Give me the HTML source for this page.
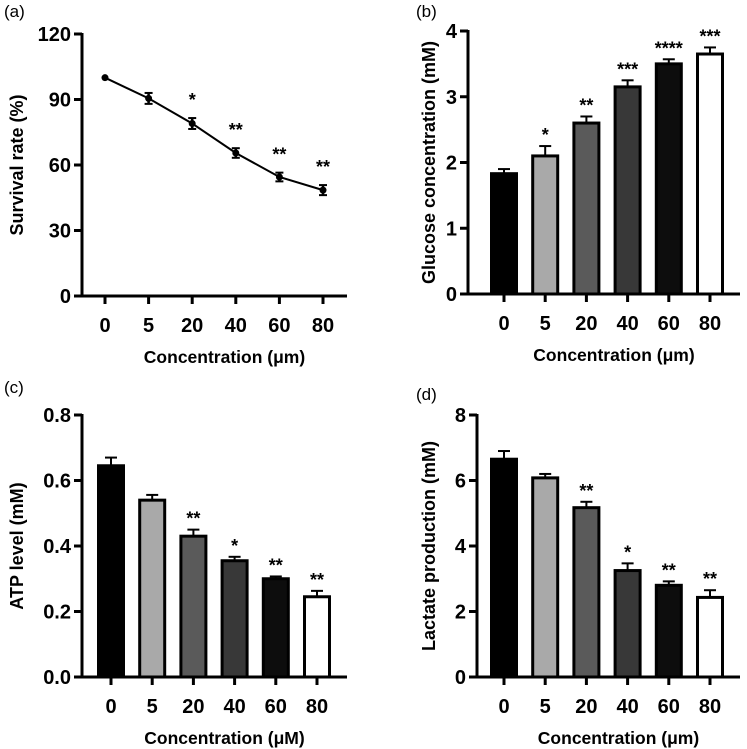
<!DOCTYPE html>
<html><head><meta charset="utf-8"><style>
body{margin:0;background:#fff}
svg{display:block;font-family:"Liberation Sans",Arial,sans-serif}
</style></head><body>
<svg id="fig" width="747" height="749" viewBox="0 0 747 749"></svg>
<script>
const categories=["0","5","20","40","60","80"];
const survivalValues=[100,90.5,79,65.5,54.5,48.5];
const survivalErrors=[0,2.5,2.5,2.2,2,2.3];
const survivalStars=["","","*","**","**","**"];
const glucoseValues=[1.83,2.1,2.6,3.15,3.5,3.65];
const glucoseErrors=[0.07,0.15,0.1,0.1,0.07,0.1];
const glucoseStars=["","*","**","***","****","***"];
const atpValues=[0.645,0.54,0.43,0.355,0.3,0.245];
const atpErrors=[0.025,0.016,0.02,0.012,0.007,0.018];
const atpStars=["","","**","*","**","**"];
const lactateValues=[6.65,6.08,5.17,3.25,2.8,2.43];
const lactateErrors=[0.25,0.12,0.18,0.22,0.12,0.22];
const lactateStars=["","","**","*","**","**"];
const ticksA=[0,30,60,90,120];
const ticksB=[0,1,2,3,4];
const ticksC=["0.0","0.2","0.4","0.6","0.8"];
const ticksD=[0,2,4,6,8];
const barFills=["#000","#a9a9a9","#5a5a5a","#383838","#0d0d0d","#fff"];

const NS="http://www.w3.org/2000/svg";
const svg=document.getElementById('fig');
function mk(tag,attrs,parent,text){const e=document.createElementNS(NS,tag);for(const k in attrs)e.setAttribute(k,attrs[k]);if(text!==undefined)e.textContent=text;(parent||svg).appendChild(e);return e;}

function panel(o){
  const g=mk('g',{});
  
  
  const ymax=o.ticks[o.ticks.length-1]*1;
  const ys=v=>o.y0-(v/ymax)*(o.y0-o.yTop);
  const xs=i=>o.xFirst+i*o.step;
  const lbl=mk('text',{x:o.lx,y:o.ly,'font-size':17},g,o.label);
  
  
  const ya=mk('line',{x1:o.ax,y1:o.yTop-1,x2:o.ax,y2:o.y0+1.5,stroke:'#000','stroke-width':3},g);
  
  
  const xa=mk('line',{x1:o.ax-1.5,y1:o.y0,x2:o.xEnd,y2:o.y0,stroke:'#000','stroke-width':3},g);
  
  
  o.ticks.forEach(t=>{
    const y=ys(t*1);
    mk('line',{x1:o.ax-8,y1:y,x2:o.ax,y2:y,stroke:'#000','stroke-width':3},g);
    const tl=mk('text',{x:o.ax-11,y:y+7,'font-size':20,'font-weight':'bold','text-anchor':'end'},g,String(t));
    
    
  });
  categories.forEach((c,i)=>{
    const x=xs(i);
    mk('line',{x1:x,y1:o.y0,x2:x,y2:o.y0+8,stroke:'#000','stroke-width':3},g);
    const tl=mk('text',{x:x,y:o.y0+36,'font-size':20,'font-weight':'bold','text-anchor':'middle'},g,c);
    
    
  });
  const xt=mk('text',{x:(o.ax+o.xEnd)/2+10,y:o.y0+67,'font-size':17.5,'font-weight':'bold','text-anchor':'middle'},g,o.xTitle);
  
  
  const ymid=(o.y0+o.yTop)/2;
  const yt=mk('text',{x:o.ytx,y:ymid,'font-size':18,'font-weight':'bold','text-anchor':'middle',transform:`rotate(-90 ${o.ytx} ${ymid})`},g,o.yTitle);
  
  
  if(o.type==='line'){
    const pts=o.values.map((v,i)=>xs(i)+','+ys(v)).join(' ');
    const pl=mk('polyline',{points:pts,fill:'none',stroke:'#000','stroke-width':2},g);
    
    
    o.values.forEach((v,i)=>{
      const x=xs(i);
      if(o.errors[i]>0){
        mk('line',{x1:x,y1:ys(v+o.errors[i]),x2:x,y2:ys(v-o.errors[i]),stroke:'#000','stroke-width':2.5},g);
        mk('line',{x1:x-4,y1:ys(v+o.errors[i]),x2:x+4,y2:ys(v+o.errors[i]),stroke:'#000','stroke-width':2},g);
        mk('line',{x1:x-4,y1:ys(v-o.errors[i]),x2:x+4,y2:ys(v-o.errors[i]),stroke:'#000','stroke-width':2},g);
      }
      const p=mk('circle',{cx:x,cy:ys(v),r:3.5,fill:'#000'},g);
      
      
      if(o.stars[i]){const s=mk('text',{x:x,y:ys(v+o.errors[i])-12,'font-size':18,'font-weight':'bold','text-anchor':'middle'},g,o.stars[i]);
        
        }
    });
  } else {
    const bw=25;
    o.values.forEach((v,i)=>{
      const x=xs(i),top=ys(v),et=ys(v+o.errors[i]);
      mk('line',{x1:x,y1:et,x2:x,y2:top,stroke:'#000','stroke-width':2},g);
      mk('line',{x1:x-6,y1:et,x2:x+6,y2:et,stroke:'#000','stroke-width':2},g);
      const b=mk('rect',{x:x-bw/2,y:top,width:bw,height:o.y0-top,fill:barFills[i],stroke:'#000','stroke-width':3},g);
      
      
      if(o.stars[i]){const s=mk('text',{x:x,y:et-5,'font-size':18,'font-weight':'bold','text-anchor':'middle'},g,o.stars[i]);
        
        }
    });
  }
}
panel({name:'panel-a-survival',type:'line',label:'(a)',lx:4,ly:17,ax:82,yTop:34,y0:296,xEnd:347,xFirst:105,step:43.6,ticks:ticksA,values:survivalValues,errors:survivalErrors,stars:survivalStars,xTitle:'Concentration (μm)',yTitle:'Survival rate (%)',ytx:23});
panel({name:'panel-b-glucose',type:'bar',label:'(b)',lx:416,ly:17,ax:468,yTop:31,y0:294,xEnd:740,xFirst:504,step:41.2,ticks:ticksB,values:glucoseValues,errors:glucoseErrors,stars:glucoseStars,xTitle:'Concentration (μm)',yTitle:'Glucose concentration (mM)',ytx:435});
panel({name:'panel-c-atp',type:'bar',label:'(c)',lx:4,ly:393,ax:82,yTop:415,y0:677,xEnd:347,xFirst:111,step:41.2,ticks:ticksC,values:atpValues,errors:atpErrors,stars:atpStars,xTitle:'Concentration (μM)',yTitle:'ATP level (mM)',ytx:23});
panel({name:'panel-d-lactate',type:'bar',label:'(d)',lx:416,ly:400,ax:477,yTop:415,y0:677,xEnd:740,xFirst:504,step:41.2,ticks:ticksD,values:lactateValues,errors:lactateErrors,stars:lactateStars,xTitle:'Concentration (μm)',yTitle:'Lactate production (mM)',ytx:435});
</script>
</body></html>
